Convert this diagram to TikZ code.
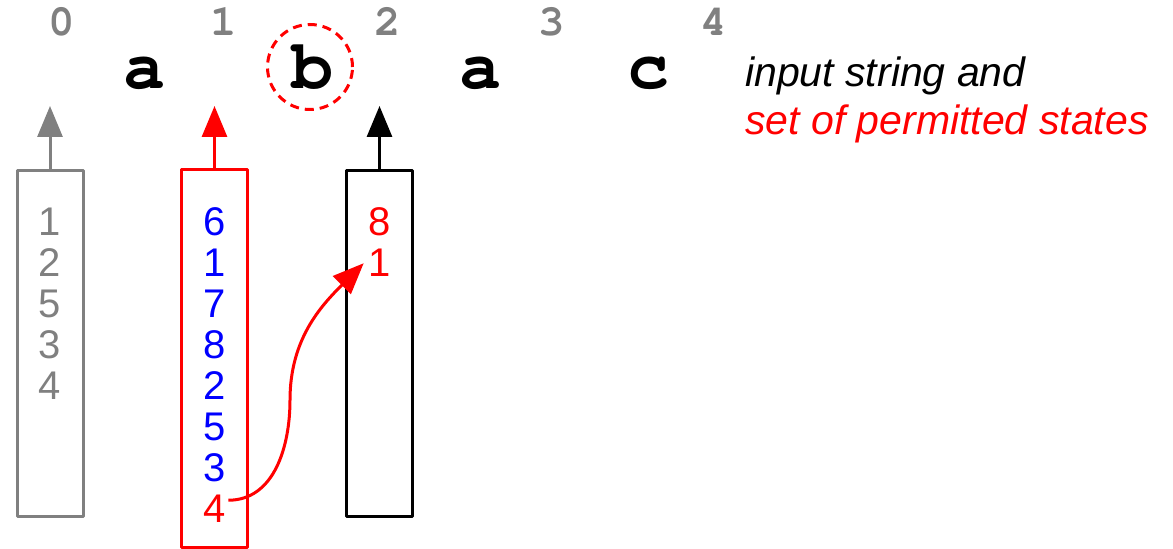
\documentclass[tikz,border=0pt]{standalone}
\usepackage[T1]{fontenc}
\usepackage{fontspec}
\setmainfont{Liberation Sans}
\newcommand{\courb}{\fontencoding{T1}\fontfamily{pcr}\fontseries{b}\selectfont}
\usetikzlibrary{arrows.meta}
\definecolor{mygray}{HTML}{808080}
\begin{document}
\begin{tikzpicture}[x=1pt,y=1pt,
 idx/.style={font=\courb\fontsize{44}{44}\selectfont, text=mygray, anchor=base, inner sep=0pt},
 sym/.style={font=\courb\fontsize{70}{70}\selectfont, anchor=base, inner sep=0pt},
 dig/.style={font=\fontsize{40}{40}\selectfont, anchor=base, inner sep=2pt},
 col/.style={draw=#1, line width=3pt, line join=round, minimum width=66pt, inner sep=0pt},
 up/.style={draw=#1, line width=3pt, -{Triangle[length=31pt,width=25pt]}},
 lab/.style={font=\itshape\fontsize{41}{41}\selectfont, anchor=base west, inner sep=0pt}]
\useasboundingbox (0,0) rectangle (1173,549);
% indices
\node[idx] (i0) at (62,513) {0};
\node[idx] (i1) at (224,513) {1};
\node[idx] (i2) at (388,513) {2};
\node[idx] (i3) at (552,513) {3};
\node[idx] (i4) at (714,513) {4};
% input symbols
\node[sym] (sa) at (144,460) {a};
\node[sym] (sb) at (312,460) {b};
\node[sym] (sa2) at (480,460) {a};
\node[sym] (sc) at (648,460) {c};
\node[circle, draw=red, line width=3pt, dash pattern=on 9pt off 6pt, minimum size=85pt, inner sep=0pt] (circ) at (310,482) {};
% labels
\node[lab] (l1) at (745,462) {input string and};
\node[lab, text=red] (l2) at (745,414) {set of permitted states};
% columns
\node[col=mygray, minimum height=346pt] (g) at (50,205) {};
\node[col=red, minimum height=377.5pt] (r) at (214.5,190.25) {};
\node[col=black, minimum height=346pt] (k) at (379.5,205) {};
\coordinate (gt) at (50,443);
\coordinate (rt) at (214.5,443);
\coordinate (kt) at (379.5,443);
\draw[up=mygray] (g.north) -- (gt);
\draw[up=red] (r.north) -- (rt);
\draw[up=black] (k.north) -- (kt);
% gray digits
\foreach \d [count=\i from 0] in {1,2,5,3,4}
  \node[dig, text=mygray] (g\i) at (50,313-41*\i) {\d};
% red column digits
\foreach \d [count=\i from 0] in {6,1,7,8,2,5,3}
  \node[dig, text=blue] (r\i) at (215,313-41*\i) {\d};
\node[dig, text=red] (r7) at (215,313-41*7) {4};
% black column digits
\node[dig, text=red] (k0) at (380,313) {8};
\node[dig, text=red] (k1) at (380,272) {1};
% transition
\coordinate (mid) at (290,149);
\draw[draw=red, line width=3pt, -{Triangle[length=31pt,width=25pt]}]
  ([yshift=9pt]r7.east) to[out=0,in=-90] (mid) to[out=90,in=225] ([xshift=-3pt]k1.west);
\end{tikzpicture}
\end{document}
